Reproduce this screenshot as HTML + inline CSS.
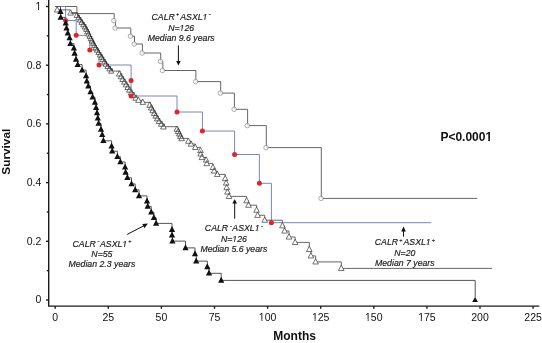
<!DOCTYPE html>
<html><head><meta charset="utf-8"><style>
html,body{margin:0;padding:0;background:#fff;}
body{width:542px;height:343px;overflow:hidden;font-family:"Liberation Sans",sans-serif;}
svg{display:block;filter:blur(0.22px);}
</style></head><body>
<svg width="542" height="343" viewBox="0 0 542 343"><defs><clipPath id="c1_0" clipPathUnits="userSpaceOnUse"><path d="M-2000,-2000H4000V4000H-2000ZM35.456,10.617L38.066,10.617L38.066,8.617L35.456,8.617ZM39.055,10.617L41.198,10.617L41.198,8.617L39.055,8.617Z" clip-rule="evenodd"></path></clipPath><clipPath id="c1_1" clipPathUnits="userSpaceOnUse"><path d="M-2000,-2000H4000V4000H-2000ZM258.834,321.466L261.444,321.466L261.444,319.467L258.834,319.467ZM262.434,321.466L264.577,321.466L264.577,319.467L262.434,319.467Z" clip-rule="evenodd"></path></clipPath><clipPath id="c1_2" clipPathUnits="userSpaceOnUse"><path d="M-2000,-2000H4000V4000H-2000ZM311.934,321.466L314.544,321.466L314.544,319.467L311.934,319.467ZM315.534,321.466L317.677,321.466L317.677,319.467L315.534,319.467Z" clip-rule="evenodd"></path></clipPath><clipPath id="c1_3" clipPathUnits="userSpaceOnUse"><path d="M-2000,-2000H4000V4000H-2000ZM365.034,321.466L367.644,321.466L367.644,319.467L365.034,319.467ZM368.633,321.466L370.777,321.466L370.777,319.467L368.633,319.467Z" clip-rule="evenodd"></path></clipPath><clipPath id="c1_4" clipPathUnits="userSpaceOnUse"><path d="M-2000,-2000H4000V4000H-2000ZM418.134,321.466L420.744,321.466L420.744,319.467L418.134,319.467ZM421.733,321.466L423.877,321.466L423.877,319.467L421.733,319.467Z" clip-rule="evenodd"></path></clipPath><clipPath id="c1_5" clipPathUnits="userSpaceOnUse"><path d="M-2000,-2000H4000V4000H-2000ZM485.666,141.562L488.197,141.562L488.197,138.925L485.666,138.925ZM489.914,141.562L492.228,141.562L492.228,138.925L489.914,138.925Z" clip-rule="evenodd"></path></clipPath><clipPath id="c1_6" clipPathUnits="userSpaceOnUse"><path d="M-2000,-2000H4000V4000H-2000ZM203.022,20.721L204.898,20.721L205.231,19.007L203.354,19.007ZM205.738,20.721L207.724,20.721L208.056,19.007L206.070,19.007Z" clip-rule="evenodd"></path></clipPath><clipPath id="c1_7" clipPathUnits="userSpaceOnUse"><path d="M-2000,-2000H4000V4000H-2000ZM179.360,31.121L181.236,31.121L181.569,29.407L179.692,29.407ZM182.075,31.121L184.062,31.121L184.394,29.407L182.408,29.407Z" clip-rule="evenodd"></path></clipPath><clipPath id="c1_8" clipPathUnits="userSpaceOnUse"><path d="M-2000,-2000H4000V4000H-2000ZM122.733,247.371L124.610,247.371L124.942,245.657L123.066,245.657ZM125.449,247.371L127.436,247.371L127.768,245.657L125.782,245.657Z" clip-rule="evenodd"></path></clipPath><clipPath id="c1_9" clipPathUnits="userSpaceOnUse"><path d="M-2000,-2000H4000V4000H-2000ZM255.078,232.071L256.954,232.071L257.287,230.357L255.410,230.357ZM257.793,232.071L259.780,232.071L260.112,230.357L258.126,230.357Z" clip-rule="evenodd"></path></clipPath><clipPath id="c1_10" clipPathUnits="userSpaceOnUse"><path d="M-2000,-2000H4000V4000H-2000ZM232.060,242.471L233.936,242.471L234.269,240.757L232.392,240.757ZM234.775,242.471L236.762,242.471L237.094,240.757L235.108,240.757Z" clip-rule="evenodd"></path></clipPath><clipPath id="c1_11" clipPathUnits="userSpaceOnUse"><path d="M-2000,-2000H4000V4000H-2000ZM426.278,245.971L428.154,245.971L428.487,244.257L426.610,244.257ZM428.993,245.971L430.980,245.971L431.312,244.257L429.326,244.257Z" clip-rule="evenodd"></path></clipPath></defs>
<g stroke="#1a1a1a" stroke-width="1.4" fill="none">
<path d="M48.7,0V306.1H539.3"></path>
<path d="M46,6.5H48.7"></path>
<path d="M46,65.2H48.7"></path>
<path d="M46,123.9H48.7"></path>
<path d="M46,182.6H48.7"></path>
<path d="M46,241.3H48.7"></path>
<path d="M46,300H48.7"></path>
<path d="M46.8,35.85H48.7"></path>
<path d="M46.8,94.55H48.7"></path>
<path d="M46.8,153.25H48.7"></path>
<path d="M46.8,211.95H48.7"></path>
<path d="M46.8,270.65H48.7"></path>
<path d="M55.2,306.3V308.8"></path>
<path d="M108.3,306.3V308.8"></path>
<path d="M161.4,306.3V308.8"></path>
<path d="M214.5,306.3V308.8"></path>
<path d="M267.6,306.3V308.8"></path>
<path d="M320.7,306.3V308.8"></path>
<path d="M373.8,306.3V308.8"></path>
<path d="M426.9,306.3V308.8"></path>
<path d="M480,306.3V308.8"></path>
<path d="M533.1,306.3V308.8"></path>
</g>
<g font-family="Liberation Sans, sans-serif" font-size="10.5" fill="#111">
<text x="41.3" y="9.95" text-anchor="end" clip-path="url(#c1_0)">1</text>
<text x="41.3" y="68.65" text-anchor="end">0.8</text>
<text x="41.3" y="127.35" text-anchor="end">0.6</text>
<text x="41.3" y="186.05" text-anchor="end">0.4</text>
<text x="41.3" y="244.75" text-anchor="end">0.2</text>
<text x="41.3" y="303.45" text-anchor="end">0</text>
<text x="55.2" y="320.8" text-anchor="middle">0</text>
<text x="108.3" y="320.8" text-anchor="middle">25</text>
<text x="161.4" y="320.8" text-anchor="middle">50</text>
<text x="214.5" y="320.8" text-anchor="middle">75</text>
<text x="267.6" y="320.8" text-anchor="middle" clip-path="url(#c1_1)">100</text>
<text x="320.7" y="320.8" text-anchor="middle" clip-path="url(#c1_2)">125</text>
<text x="373.8" y="320.8" text-anchor="middle" clip-path="url(#c1_3)">150</text>
<text x="426.9" y="320.8" text-anchor="middle" clip-path="url(#c1_4)">175</text>
<text x="480" y="320.8" text-anchor="middle">200</text>
<text x="533.1" y="320.8" text-anchor="middle">225</text>
</g>
<text x="294.6" y="339.9" text-anchor="middle" font-family="Liberation Sans, sans-serif" font-weight="bold" font-size="12" fill="#111">Months</text>
<text transform="translate(10.4,151.7) rotate(-90)" text-anchor="middle" font-family="Liberation Sans, sans-serif" font-weight="bold" font-size="11.8" fill="#111">Survival</text>
<text x="440.4" y="140.8" font-family="Liberation Sans, sans-serif" font-weight="bold" font-size="12" fill="#111" clip-path="url(#c1_5)">P&lt;0.0001</text>
<path d="M55.2,6.5H76.9V13.6H114.2V20.6H115.4V28H130.8V36.2H134.5V44H142.4V53H160.7V61.4H162.8V70.5H195.9V81.6H220.7V93.1H234.4V109.3H247.6V125.6H266.3V147.6H321.3V198.4H477.3" stroke="#666" stroke-width="1" fill="none"></path>
<path d="M55.2,6.5H65.6V20.5H76.2V35.3H89.8V50H99V65H131.1V80.4H131.1V96H177V112H202.4V131H234.6V154.5H259.4V183.3H271.4V222.7H431.3" stroke="#7c86b4" stroke-width="1" fill="none"></path>
<path d="M55.2,6.5H57.2V9.9H70.6V13H77.65V15.32H79.27V17.65H80.89V19.97H82.51V22.3H84.13V24.62H85.75V26.94H87.06V29.27H88.21V31.59H89.36V33.92H90.51V36.24H91.66V38.56H92.81V40.89H93.96V43.21H95.1V45.54H96.52V47.86H97.96V50.18H99.4V52.51H100.84V54.83H102.28V57.16H103.72V59.48H105.16V61.8H106.6V64.13H108.45V66.45H110.31V68.78H112.16V71.1H120.22V73.79H121.92V76.48H123.62V79.17H125.33V81.86H127.03V84.55H128.73V87.24H130.35V89.93H132.12V92.62H134.4V95.31H136.69V98H138.4V100.3H142.8V102.3H150.62V105.01H152.15V107.72H153.68V110.43H155.2V113.14H156.73V115.86H158.26V118.57H159.97V121.28H162.19V123.99H164.41V126.7H177.91V129.04H179.09V131.38H180.27V133.72H181.45V136.06H182.63V138.4H188.4V141.2H191V144H195.3V147.4H200.5V150.5H200.6V154H201.9V157.5H206.2V160H206.8V163.6H213V167.4H214.1V171H217.3V174.4H225.2V178.6H226.2V183H226.7V187.6H227.5V192H229V196.4H246.6V200.7H248.5V205.2H256.6V210.1H257.6V215.3H264.7V220.2H282.4V225.8H284.6V231H289V237H295.1V242.4H309.3V249.4H310.9V255.9H315.6V261.9H341.3V268.4H492" stroke="#666" stroke-width="1" fill="none"></path>
<path d="M76.65,12.62L79.15,17.42L74.15,17.42ZM78.27,14.95L80.77,19.75L75.77,19.75ZM79.89,17.27L82.39,22.07L77.39,22.07ZM81.51,19.6L84.01,24.4L79.01,24.4ZM83.13,21.92L85.63,26.72L80.63,26.72ZM84.75,24.24L87.25,29.04L82.25,29.04ZM86.06,26.57L88.56,31.37L83.56,31.37ZM87.21,28.89L89.71,33.69L84.71,33.69ZM88.36,31.22L90.86,36.02L85.86,36.02ZM89.51,33.54L92.01,38.34L87.01,38.34ZM90.66,35.86L93.16,40.66L88.16,40.66ZM91.81,38.19L94.31,42.99L89.31,42.99ZM92.96,40.51L95.46,45.31L90.46,45.31ZM94.1,42.84L96.6,47.64L91.6,47.64ZM95.52,45.16L98.02,49.96L93.02,49.96ZM96.96,47.48L99.46,52.28L94.46,52.28ZM98.4,49.81L100.9,54.61L95.9,54.61ZM99.84,52.13L102.34,56.93L97.34,56.93ZM101.28,54.46L103.78,59.26L98.78,59.26ZM102.72,56.78L105.22,61.58L100.22,61.58ZM104.16,59.1L106.66,63.9L101.66,63.9ZM105.6,61.43L108.1,66.23L103.1,66.23ZM107.45,63.75L109.95,68.55L104.95,68.55ZM109.31,66.08L111.81,70.88L106.81,70.88ZM111.16,68.4L113.66,73.2L108.66,73.2ZM119.22,70.79L122.02,76.09L116.42,76.09ZM120.92,73.48L123.72,78.78L118.12,78.78ZM122.62,76.17L125.42,81.47L119.82,81.47ZM124.33,78.86L127.13,84.16L121.53,84.16ZM126.03,81.55L128.83,86.85L123.23,86.85ZM127.73,84.24L130.53,89.54L124.93,89.54ZM129.35,86.93L132.15,92.23L126.55,92.23ZM131.12,89.62L133.92,94.92L128.32,94.92ZM133.4,92.31L136.2,97.61L130.6,97.61ZM135.69,95L138.49,100.3L132.89,100.3ZM149.62,102.01L152.42,107.31L146.82,107.31ZM151.15,104.72L153.95,110.02L148.35,110.02ZM152.68,107.43L155.48,112.73L149.88,112.73ZM154.2,110.14L157,115.44L151.4,115.44ZM155.73,112.86L158.53,118.16L152.93,118.16ZM157.26,115.57L160.06,120.87L154.46,120.87ZM158.97,118.28L161.77,123.58L156.17,123.58ZM161.19,120.99L163.99,126.29L158.39,126.29ZM163.41,123.7L166.21,129L160.61,129ZM176.91,126.04L179.71,131.34L174.11,131.34ZM178.09,128.38L180.89,133.68L175.29,133.68ZM179.27,130.72L182.07,136.02L176.47,136.02ZM180.45,133.06L183.25,138.36L177.65,138.36ZM181.63,135.4L184.43,140.7L178.83,140.7Z" stroke="#333" stroke-width="0.7" fill="#fff"></path>
<path d="M57.2,6.7L60,12L54.4,12ZM70.6,9.8L73.4,15.1L67.8,15.1ZM138.4,97.1L141.2,102.4L135.6,102.4ZM142.8,99.1L145.6,104.4L140,104.4ZM188.4,138L191.2,143.3L185.6,143.3ZM191,140.8L193.8,146.1L188.2,146.1ZM195.3,144.2L198.1,149.5L192.5,149.5ZM200.5,147.3L203.3,152.6L197.7,152.6ZM200.6,150.8L203.4,156.1L197.8,156.1ZM201.9,154.3L204.7,159.6L199.1,159.6ZM206.2,156.8L209,162.1L203.4,162.1ZM206.8,160.4L209.6,165.7L204,165.7ZM213,164.2L215.8,169.5L210.2,169.5ZM214.1,167.8L216.9,173.1L211.3,173.1ZM217.3,171.2L220.1,176.5L214.5,176.5ZM225.2,175.4L228,180.7L222.4,180.7ZM226.2,179.8L229,185.1L223.4,185.1ZM226.7,184.4L229.5,189.7L223.9,189.7ZM227.5,188.8L230.3,194.1L224.7,194.1ZM229,193.2L231.8,198.5L226.2,198.5ZM246.6,197.5L249.4,202.8L243.8,202.8ZM248.5,202L251.3,207.3L245.7,207.3ZM256.6,206.9L259.4,212.2L253.8,212.2ZM257.6,212.1L260.4,217.4L254.8,217.4ZM264.7,217L267.5,222.3L261.9,222.3ZM282.4,222.6L285.2,227.9L279.6,227.9ZM284.6,227.8L287.4,233.1L281.8,233.1ZM289,233.8L291.8,239.1L286.2,239.1ZM295.1,239.2L297.9,244.5L292.3,244.5ZM309.3,246.2L312.1,251.5L306.5,251.5ZM310.9,252.7L313.7,258L308.1,258ZM315.6,258.7L318.4,264L312.8,264ZM341.3,265.2L344.1,270.5L338.5,270.5Z" stroke="#3a3a3a" stroke-width="0.7" fill="#fff"></path>
<path d="M70.6,13H77.65V15.32H79.27V17.65H80.89V19.97H82.51V22.3H84.13V24.62H85.75V26.94H87.06V29.27H88.21V31.59H89.36V33.92H90.51V36.24H91.66V38.56H92.81V40.89H93.96V43.21H95.1V45.54H96.52V47.86H97.96V50.18H99.4V52.51H100.84V54.83H102.28V57.16H103.72V59.48H105.16V61.8H106.6V64.13H108.45V66.45H110.31V68.78H112.16V71.1" stroke="#3a3a3a" stroke-width="1" fill="none"></path>
<g stroke="#808080" stroke-width="0.65" fill="#fff" fill-opacity="0.75">
<circle cx="113.9" cy="20.6" r="2.25"></circle>
<circle cx="115.1" cy="28" r="2.25"></circle>
<circle cx="130.5" cy="36.2" r="2.25"></circle>
<circle cx="134.2" cy="44" r="2.25"></circle>
<circle cx="142.1" cy="53" r="2.25"></circle>
<circle cx="160.4" cy="61.4" r="2.25"></circle>
<circle cx="162.5" cy="70.5" r="2.25"></circle>
<circle cx="195.6" cy="81.6" r="2.25"></circle>
<circle cx="220.4" cy="93.1" r="2.25"></circle>
<circle cx="234.1" cy="109.3" r="2.25"></circle>
<circle cx="247.3" cy="125.6" r="2.25"></circle>
<circle cx="266" cy="147.6" r="2.25"></circle>
<circle cx="321" cy="198.4" r="2.25"></circle>
</g>
<g fill="#e3232c">
<circle cx="65.6" cy="20.5" r="2.5"></circle>
<circle cx="76.2" cy="35.3" r="2.5"></circle>
<circle cx="89.8" cy="50" r="2.5"></circle>
<circle cx="99" cy="65" r="2.5"></circle>
<circle cx="131.1" cy="80.4" r="2.5"></circle>
<circle cx="131.1" cy="96" r="2.5"></circle>
<circle cx="177" cy="112" r="2.5"></circle>
<circle cx="202.4" cy="131" r="2.5"></circle>
<circle cx="234.6" cy="154.5" r="2.5"></circle>
<circle cx="259.4" cy="183.3" r="2.5"></circle>
<circle cx="271.4" cy="222.7" r="2.5"></circle>
</g>
<path d="M55.2,6.5H60.5V11.8H60.7V17.4H65.7V23.1H66.5V28.1H67.8V33.3H69.6V38H70.4V43.6H73.9V48.3H74.6V53.4H76V59.4H77.7V64.6H82.1V70.1H86.1V76H86.8V81.3H88.3V86.1H90.5V91.9H92.6V97.1H94.9V102.4H96.1V107.6H97V112.9H97.8V118.1H98.6V123.4H101V129.5H102.2V134.8H103.4V140.8H111.6V146.2H112.2V151.2H117.4V156.7H120.4V162H125.1V167.3H125.6V172.5H127.4V177.8H131.5V183.9H135.2V189.9H139V195.9H147V201.1H147.7V206.4H151.2V212.1H153.9V217.6H156.1V223.4H172V229.7H172V235.3H172.4V241.1H185.5V247.9H195V254H196.2V261.1H207.3V267H209V273.3H221.2V280.4H475.2V297.5" stroke="#555" stroke-width="1" fill="none"></path>
<path d="M60.5,8.1L63.6,14.1L57.4,14.1ZM60.7,13.7L63.8,19.7L57.6,19.7ZM65.7,19.4L68.8,25.4L62.6,25.4ZM66.5,24.4L69.6,30.4L63.4,30.4ZM67.8,29.6L70.9,35.6L64.7,35.6ZM69.6,34.3L72.7,40.3L66.5,40.3ZM70.4,39.9L73.5,45.9L67.3,45.9ZM73.9,44.6L77,50.6L70.8,50.6ZM74.6,49.7L77.7,55.7L71.5,55.7ZM76,55.7L79.1,61.7L72.9,61.7ZM77.7,60.9L80.8,66.9L74.6,66.9ZM82.1,66.4L85.2,72.4L79,72.4ZM86.1,72.3L89.2,78.3L83,78.3ZM86.8,77.6L89.9,83.6L83.7,83.6ZM88.3,82.4L91.4,88.4L85.2,88.4ZM90.5,88.2L93.6,94.2L87.4,94.2ZM92.6,93.4L95.7,99.4L89.5,99.4ZM94.9,98.7L98,104.7L91.8,104.7ZM96.1,103.9L99.2,109.9L93,109.9ZM97,109.2L100.1,115.2L93.9,115.2ZM97.8,114.4L100.9,120.4L94.7,120.4ZM98.6,119.7L101.7,125.7L95.5,125.7ZM101,125.8L104.1,131.8L97.9,131.8ZM102.2,131.1L105.3,137.1L99.1,137.1ZM103.4,137.1L106.5,143.1L100.3,143.1ZM111.6,142.5L114.7,148.5L108.5,148.5ZM112.2,147.5L115.3,153.5L109.1,153.5ZM117.4,153L120.5,159L114.3,159ZM120.4,158.3L123.5,164.3L117.3,164.3ZM125.1,163.6L128.2,169.6L122,169.6ZM125.6,168.8L128.7,174.8L122.5,174.8ZM127.4,174.1L130.5,180.1L124.3,180.1ZM131.5,180.2L134.6,186.2L128.4,186.2ZM135.2,186.2L138.3,192.2L132.1,192.2ZM139,192.2L142.1,198.2L135.9,198.2ZM147,197.4L150.1,203.4L143.9,203.4ZM147.7,202.7L150.8,208.7L144.6,208.7ZM151.2,208.4L154.3,214.4L148.1,214.4ZM153.9,213.9L157,219.9L150.8,219.9ZM156.1,219.7L159.2,225.7L153,225.7ZM172,226L175.1,232L168.9,232ZM172,231.6L175.1,237.6L168.9,237.6ZM172.4,237.4L175.5,243.4L169.3,243.4ZM185.5,244.2L188.6,250.2L182.4,250.2ZM195,250.3L198.1,256.3L191.9,256.3ZM196.2,257.4L199.3,263.4L193.1,263.4ZM207.3,263.3L210.4,269.3L204.2,269.3ZM209,269.6L212.1,275.6L205.9,275.6ZM221.2,276.7L224.3,282.7L218.1,282.7ZM475.1,297.1L478,301.9L472.2,301.9Z" fill="#111"></path>
<g stroke="#111" stroke-width="1" fill="none">
<path d="M178.4,45.4V61"></path>
<path d="M234.7,218.7V203"></path>
<path d="M403.5,236.6V231"></path>
<path d="M127.2,234.4L144,225.7"></path>
</g>
<g fill="#111">
<path d="M176.2,60.9L180.7,60.9L178.4,65.6Z"></path>
<path d="M232.3,203.4L237.1,203.4L234.7,199.2Z"></path>
<path d="M401.2,231.4L405.9,231.4L403.5,226.6Z"></path>
<path d="M147.9,223.6L144.5,228.2L142.3,224Z"></path>
</g>
<g font-family="Liberation Sans, sans-serif" font-style="italic" font-size="9" fill="#1a1a1a" stroke="#1a1a1a" stroke-width="0.18">
<g transform="translate(181.2,0) scale(0.97,1) translate(-181.2,0)"><text x="181.2" y="20.15" text-anchor="middle" clip-path="url(#c1_6)">CALR<tspan font-size="5.5" dy="-3.7" dx="1.3">+</tspan><tspan dy="3.7" dx="1.1">ASXL1</tspan><tspan font-size="7" dy="-3.7" dx="1.2">-</tspan></text><text x="181.2" y="30.55" text-anchor="middle" clip-path="url(#c1_7)">N=126</text><text x="181.2" y="40.75" text-anchor="middle">Median 9.6 years</text></g>
<g transform="translate(101.9,0) scale(0.97,1) translate(-101.9,0)"><text x="101.9" y="246.8" text-anchor="middle" clip-path="url(#c1_8)">CALR<tspan font-size="7" dy="-3.7" dx="1.6">-</tspan><tspan dy="3.7" dx="0.4">ASXL1</tspan><tspan font-size="5.5" dy="-3.7" dx="1.0">+</tspan></text><text x="101.9" y="257.2" text-anchor="middle">N=55</text><text x="101.9" y="267.4" text-anchor="middle">Median 2.3 years</text></g>
<g transform="translate(233.9,0) scale(0.97,1) translate(-233.9,0)"><text x="233.9" y="231.5" text-anchor="middle" clip-path="url(#c1_9)">CALR<tspan font-size="7" dy="-3.7" dx="1.6">-</tspan><tspan dy="3.7" dx="0.4">ASXL1</tspan><tspan font-size="7" dy="-3.7" dx="1.2">-</tspan></text><text x="233.9" y="241.9" text-anchor="middle" clip-path="url(#c1_10)">N=126</text><text x="233.9" y="252.1" text-anchor="middle">Median 5.6 years</text></g>
<g transform="translate(404.8,0) scale(0.97,1) translate(-404.8,0)"><text x="404.8" y="245.4" text-anchor="middle" clip-path="url(#c1_11)">CALR<tspan font-size="5.5" dy="-3.7" dx="1.3">+</tspan><tspan dy="3.7" dx="1.1">ASXL1</tspan><tspan font-size="5.5" dy="-3.7" dx="1.0">+</tspan></text><text x="404.8" y="255.8" text-anchor="middle">N=20</text><text x="404.8" y="266" text-anchor="middle">Median 7 years</text></g>
</g>
</svg>

</body></html>
